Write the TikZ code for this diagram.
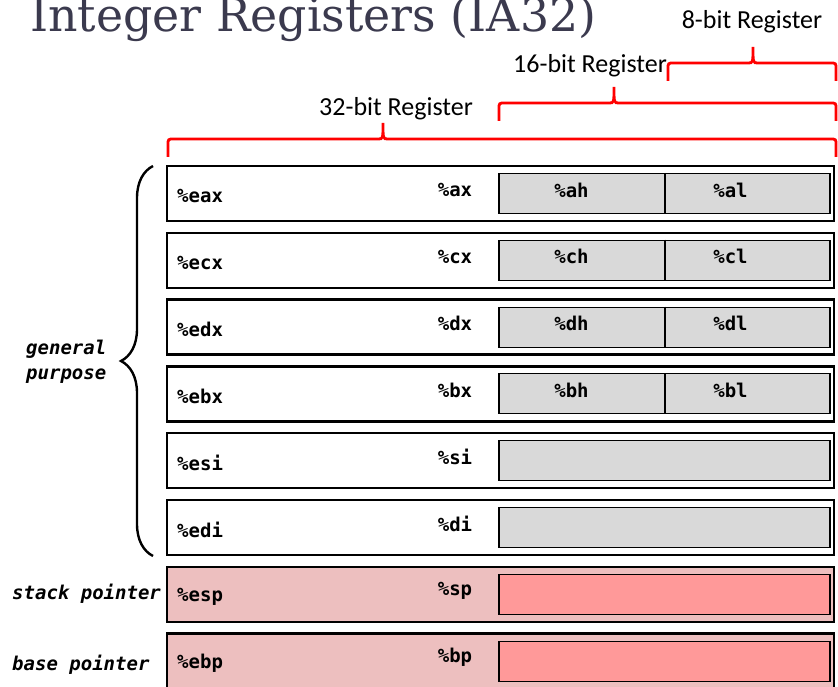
\documentclass[tikz,border=0pt]{standalone}
\usepackage{graphicx}
\usepackage{fontspec}
\setmonofont{DejaVu Sans Mono}
\newfontfamily\labelfont{Carlito}
\newfontfamily\titlefont{DejaVu Serif}
\usetikzlibrary{decorations.pathreplacing}

\definecolor{titlegray}{HTML}{3B3A4E}
\definecolor{subgray}{HTML}{D9D9D9}
\definecolor{ptrpink}{HTML}{EDBFBF}
\definecolor{subpink}{HTML}{FF9999}
\definecolor{bracered}{HTML}{FF0000}

% red bracket over the register bits: left x, right x, tip x, bar y
\newcommand{\bitbracket}[4]{%
  \draw[bitbrace] (#1,#4+18) -- (#1,#4+6) .. controls (#1,#4) .. (#1+6,#4)
    -- (#3-5,#4) .. controls (#3,#4) .. (#3,#4-16) .. controls (#3,#4) .. (#3+5,#4)
    -- (#2-6,#4) .. controls (#2,#4) .. (#2,#4+6) -- (#2,#4+18);}

\begin{document}
\begin{tikzpicture}
    [x=1pt,y=-1pt,
     regbox/.style={draw,line width=2.4pt,minimum width=667pt,minimum height=55pt,inner sep=0pt},
     subbox/.style={draw,line width=1.1pt,minimum width=331pt,minimum height=40pt,inner sep=0pt},
     regname/.style={font=\ttfamily\bfseries\fontsize{19}{22}\selectfont,inner sep=0pt},
     sidelabel/.style={font=\ttfamily\bfseries\itshape\fontsize{19}{25}\selectfont,inner sep=0pt,anchor=west},
     bitlabel/.style={font=\labelfont\fontsize{26}{30}\selectfont,anchor=base,inner sep=0pt},
     bitbrace/.style={draw=bracered,line width=2.8pt}]
    \useasboundingbox (0,0) rectangle (838,687);
    \clip (0,0) rectangle (838,687);

    \node[anchor=base west,inner sep=0pt,text=titlegray,font=\titlefont\fontsize{45}{50}\selectfont]
        (title) at (30,32) {\resizebox{566pt}{!}{Integer Registers (IA32)}};

    % bit-width brackets
    \bitbracket{168}{836}{383}{139}
    \bitbracket{499}{836}{614}{103}
    \bitbracket{668}{836}{753}{63}
    \node[bitlabel] (bits32) at (396,116) {32-bit Register};
    \node[bitlabel] (bits16) at (590,73) {16-bit Register};
    \node[bitlabel] (bits8) at (752,29) {8-bit Register};

    % the eight registers
    \foreach \ereg/\wreg/\outfill/\infill [count=\i from 0] in
        {eax/ax/white/subgray,ecx/cx/white/subgray,edx/dx/white/subgray,ebx/bx/white/subgray,
         esi/si/white/subgray,edi/di/white/subgray,esp/sp/ptrpink/subpink,ebp/bp/ptrpink/subpink}
    {
        \pgfmathsetmacro\rowtop{166+66.8*\i}
        \node[regbox,fill=\outfill] (\ereg) at (500.5,\rowtop+27.5) {};
        \node[subbox,fill=\infill] (\wreg) at (664.5,\rowtop+27.5) {};
        \node[regname,anchor=west] (\ereg name) at (177,\rowtop+30) {\%\ereg};
        \node[regname] (\wreg name) at (455,\rowtop+24) {\%\wreg};
    }

    % high and low bytes
    \foreach \wreg/\hreg/\lreg in {ax/ah/al,cx/ch/cl,dx/dh/dl,bx/bh/bl}
    {
        \draw[line width=1.1pt] ([xshift=0.5pt]\wreg.north) -- ([xshift=0.5pt]\wreg.south);
        \node[regname] (\hreg) at ([xshift=-93pt,yshift=3.5pt]\wreg.center) {\%\hreg};
        \node[regname] (\lreg) at ([xshift=66pt,yshift=3.5pt]\wreg.center) {\%\lreg};
    }

    \draw[line width=2.4pt,decorate,decoration={brace,amplitude=32pt}] (153,556) -- (153,166);
    \node[sidelabel,align=left] (general) at (26,362) {general\\purpose};
    \node[sidelabel] (stack) at (12,594) {stack pointer};
    \node[sidelabel] (base) at (12,665) {base pointer};
\end{tikzpicture}
\end{document}
